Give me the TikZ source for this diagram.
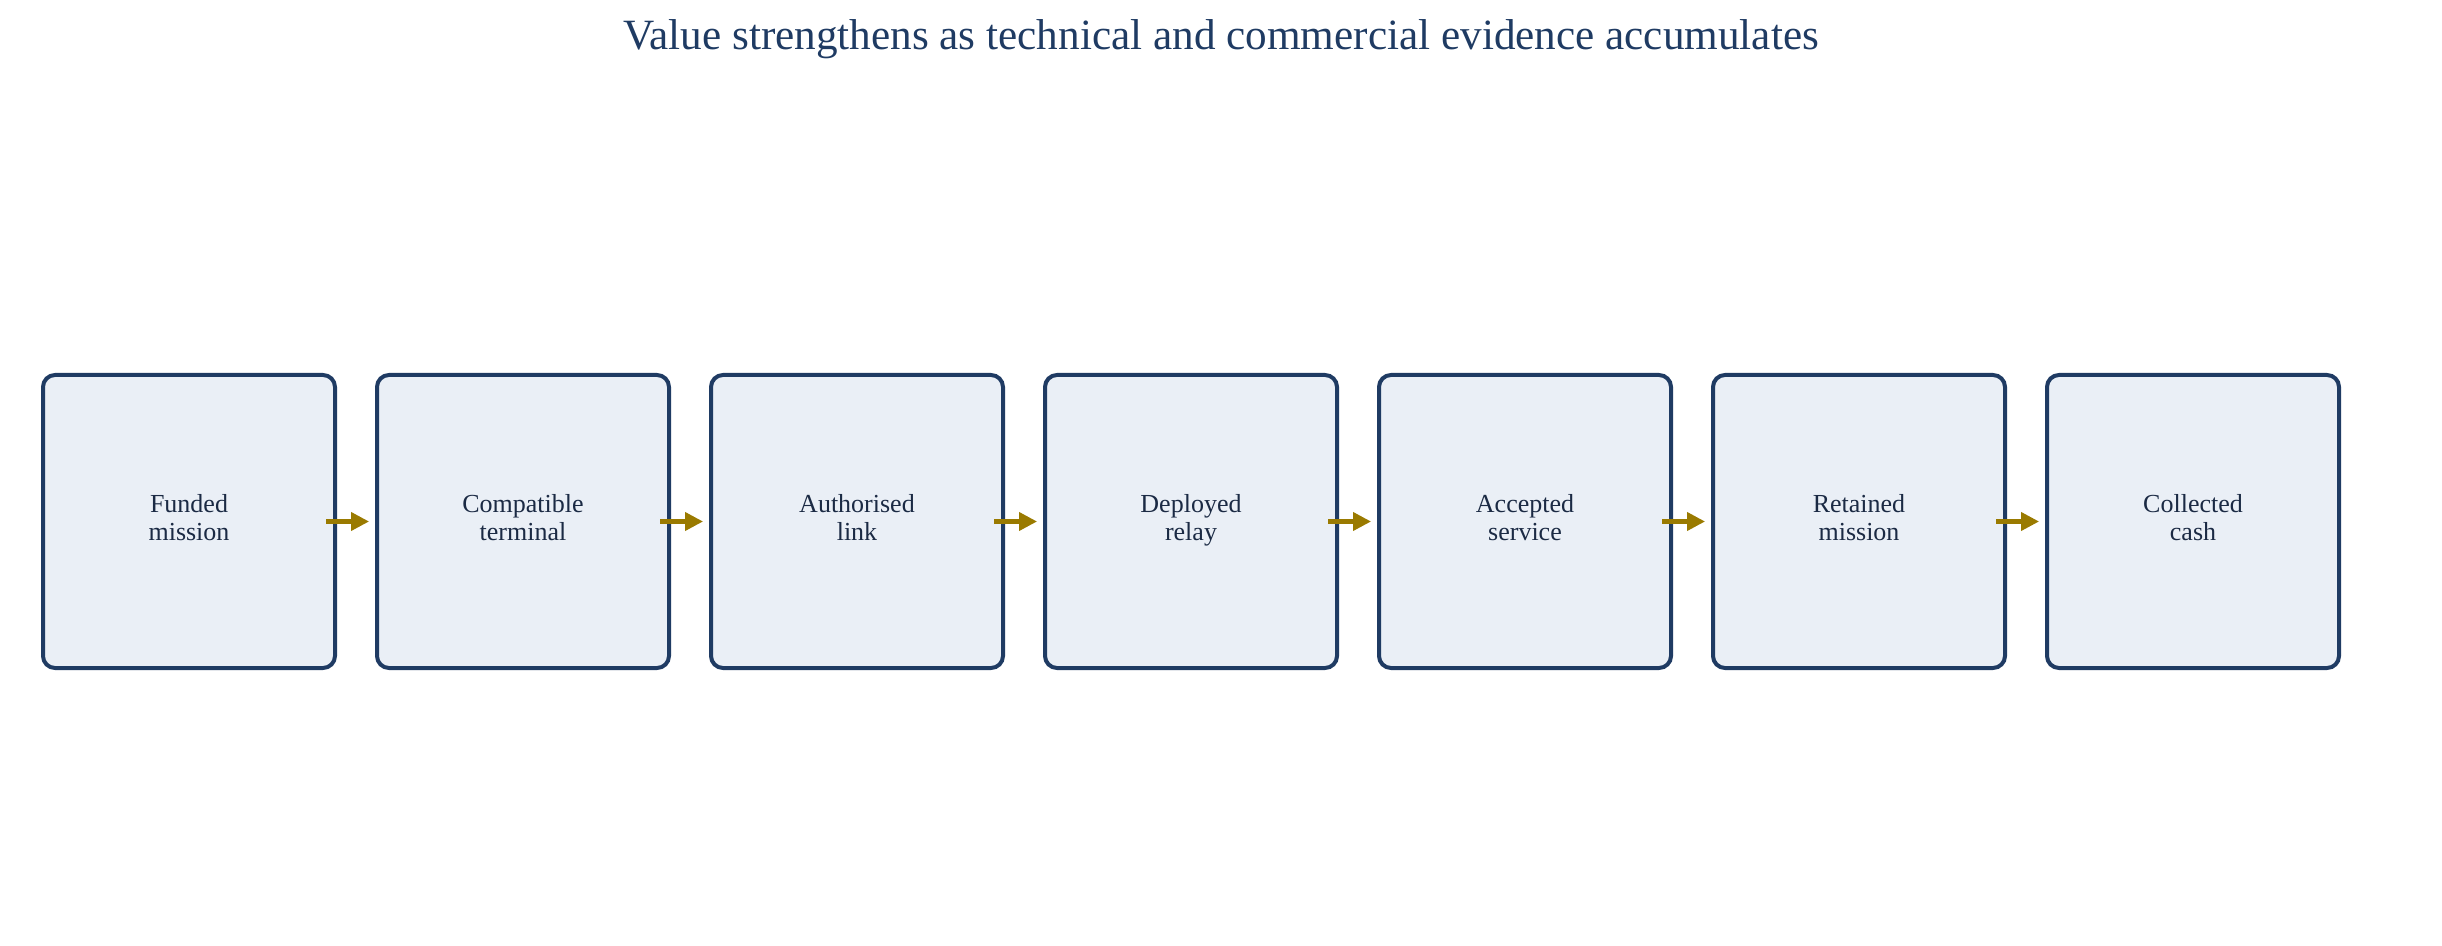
\documentclass[tikz,border=0pt]{standalone}
\usepackage{fontspec}
\setmainfont{Liberation Serif}
\usetikzlibrary{positioning, arrows.meta}

\definecolor{navyline}{HTML}{1F3B63}
\definecolor{boxfill}{HTML}{EAEFF6}
\definecolor{inktext}{HTML}{1B2A44}
\definecolor{arrowgold}{HTML}{9A7A00}

\tikzset{
	stage/.style = {draw=navyline, fill=boxfill, line width=2pt, rounded corners=6pt,
		minimum width=146pt, minimum height=146.5pt, outer sep=0pt,
		align=center, text=inktext, font=\fontsize{13}{14.2}\selectfont,
		execute at begin node=\strut, execute at end node=\strut},
	flow/.style = {draw=arrowgold, line width=2pt, -{Triangle[length=9pt,width=9pt]}}
}

\begin{document}
\begin{tikzpicture}[x=0.5pt, y=-0.5pt]
	\useasboundingbox (0,0) rectangle (2442,946);
	\node[anchor=base, text=navyline, font=\fontsize{21.6}{25}\selectfont] (title) at (1221,49.5)
		{Value strengthens as technical and commercial evidence accumulates};
	
	\node[stage] (s1) at (189,521.5) {Funded\\mission};
	\foreach \txt [count=\i from 2] in {{Compatible\\terminal}, {Authorised\\link},
			{Deployed\\relay}, {Accepted\\service}, {Retained\\mission}, {Collected\\cash}} {
		\pgfmathtruncatemacro{\j}{\i-1}
		\node[stage, right=21pt of s\j] (s\i) {\txt};
	}
	
	\foreach \i in {1,...,6} {
		\pgfmathtruncatemacro{\k}{\i+1}
		\draw[flow] ([xshift=-4.5pt]s\i.east) -- ([xshift=-4pt]s\k.west);
	}
\end{tikzpicture}
\end{document}
